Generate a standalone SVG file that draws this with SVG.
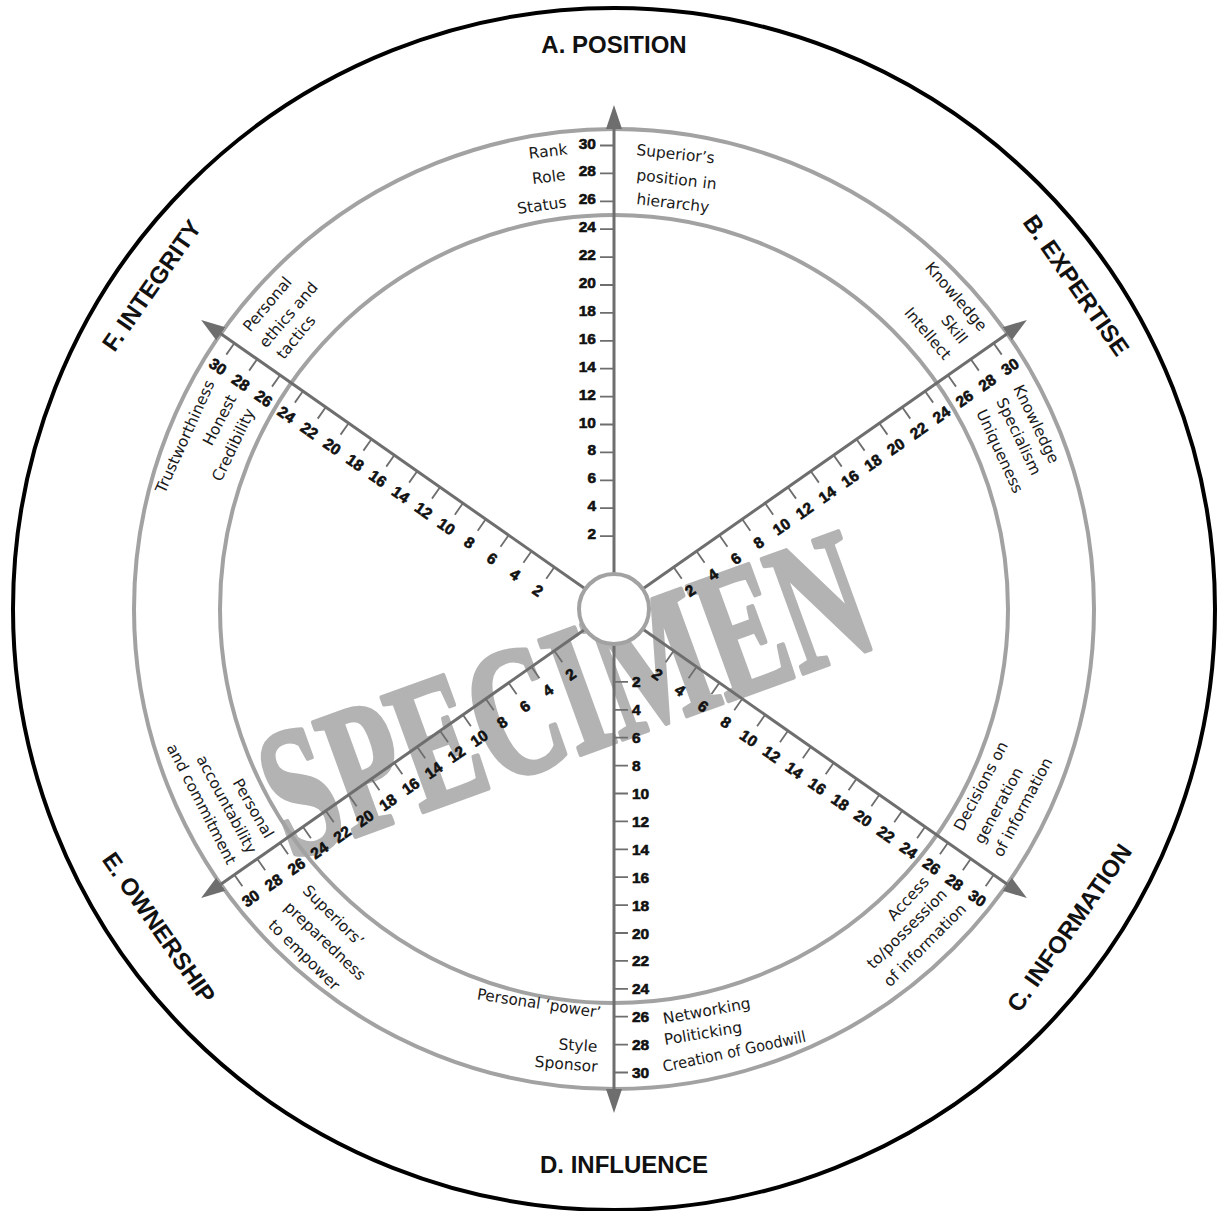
<svg xmlns="http://www.w3.org/2000/svg" width="1224" height="1211" viewBox="0 0 1224 1211">
<defs>
<style>
.ax{stroke:#6e6e6e;stroke-width:3;fill:none}
.tk{stroke:#6e6e6e;stroke-width:1.8;fill:none}
.ring{fill:none;stroke:#a2a2a2;stroke-width:4}
.num{font-family:"Liberation Sans",Arial,sans-serif;font-weight:bold;font-size:15.5px;fill:#111;stroke:#111;stroke-width:0.6}
.lb{font-family:"DejaVu Sans","Liberation Sans",sans-serif;font-size:15.5px;fill:#1a1a1a}
.cat{font-family:"Liberation Sans",Arial,sans-serif;font-weight:bold;font-size:24px;fill:#111;text-anchor:middle}
.wm{font-family:"Liberation Serif","Times New Roman",serif;font-weight:bold;font-size:185px;fill:#b3b3b3;stroke:#b3b3b3;stroke-width:5;stroke-linejoin:round;text-anchor:middle}
.e{text-anchor:end}
.m{text-anchor:middle}
</style>
<marker id="arr" markerUnits="userSpaceOnUse" markerWidth="26" markerHeight="18" viewBox="0 0 26 18" refX="0" refY="9" orient="auto"><path d="M0 1L24 9L0 17z" fill="#6e6e6e"/></marker>
<path id="ticks" d="M72.9 0v14M100.8 0v14M128.7 0v14M156.6 0v14M184.5 0v14M212.4 0v14M240.3 0v14M268.2 0v14M296.1 0v14M324 0v14M351.9 0v14M379.8 0v14M407.7 0v14M435.6 0v14M463.5 0v14"/>
</defs>
<rect width="1224" height="1211" fill="#fff"/>
<g id="watermark">
<text class="wm" transform="translate(566 698) rotate(-20) scale(0.645 1)" x="0" y="58">SPECIMEN</text>
</g>
<g id="rings">
<circle cx="614" cy="609" r="601" fill="none" stroke="#000" stroke-width="4"/>
<circle class="ring" cx="614" cy="609" r="480"/>
<circle class="ring" cx="614" cy="609" r="394"/>
</g>
<g id="connectors">
<g transform="translate(614 609)">
<line class="ax" x1="0" y1="0" x2="480" y2="0" transform="rotate(-90)" marker-end="url(#arr)"/>
<line class="ax" x1="0" y1="0" x2="480" y2="0" transform="rotate(-35)" marker-end="url(#arr)"/>
<line class="ax" x1="0" y1="0" x2="480" y2="0" transform="rotate(35)" marker-end="url(#arr)"/>
<line class="ax" x1="0" y1="0" x2="480" y2="0" transform="rotate(90)" marker-end="url(#arr)"/>
<line class="ax" x1="0" y1="0" x2="480" y2="0" transform="rotate(145)" marker-end="url(#arr)"/>
<line class="ax" x1="0" y1="0" x2="480" y2="0" transform="rotate(215)" marker-end="url(#arr)"/>
</g>
<g class="tk">
<use href="#ticks" transform="translate(614 609) rotate(-90) scale(1 -1)"/>
<use href="#ticks" transform="translate(614 609) rotate(-35)"/>
<use href="#ticks" transform="translate(614 609) rotate(35)"/>
<use href="#ticks" transform="translate(614 609) rotate(90) scale(1 -1)"/>
<use href="#ticks" transform="translate(614 609) rotate(-35) scale(-1 1)"/>
<use href="#ticks" transform="translate(614 609) rotate(35) scale(-1 1)"/>
</g>
</g>
<g id="scale-A" class="num e" transform="translate(614 609)">
<text x="-18" y="-69.9">2</text><text x="-18" y="-97.8">4</text><text x="-18" y="-125.7">6</text><text x="-18" y="-153.6">8</text><text x="-18" y="-181.5">10</text><text x="-18" y="-209.4">12</text><text x="-18" y="-237.3">14</text><text x="-18" y="-265.2">16</text><text x="-18" y="-293.1">18</text><text x="-18" y="-321">20</text><text x="-18" y="-348.9">22</text><text x="-18" y="-376.8">24</text><text x="-18" y="-404.7">26</text><text x="-18" y="-432.6">28</text><text x="-18" y="-460.5">30</text>
</g>
<g id="scale-D" class="num" transform="translate(614 609)">
<text x="18" y="78.4">2</text><text x="18" y="106.3">4</text><text x="18" y="134.2">6</text><text x="18" y="162.1">8</text><text x="18" y="190">10</text><text x="18" y="217.9">12</text><text x="18" y="245.8">14</text><text x="18" y="273.7">16</text><text x="18" y="301.6">18</text><text x="18" y="329.5">20</text><text x="18" y="357.4">22</text><text x="18" y="385.3">24</text><text x="18" y="413.2">26</text><text x="18" y="441.1">28</text><text x="18" y="469">30</text>
</g>
<g id="scale-B" class="num m" transform="translate(614 609) rotate(-35)">
<text x="72.9" y="34">2</text><text x="100.8" y="34">4</text><text x="128.7" y="34">6</text><text x="156.6" y="34">8</text><text x="184.5" y="34">10</text><text x="212.4" y="34">12</text><text x="240.3" y="34">14</text><text x="268.2" y="34">16</text><text x="296.1" y="34">18</text><text x="324" y="34">20</text><text x="351.9" y="34">22</text><text x="379.8" y="34">24</text><text x="407.7" y="34">26</text><text x="435.6" y="34">28</text><text x="463.5" y="34">30</text>
</g>
<g id="scale-E" class="num m" transform="translate(614 609) rotate(-35)">
<text x="-72.9" y="34">2</text><text x="-100.8" y="34">4</text><text x="-128.7" y="34">6</text><text x="-156.6" y="34">8</text><text x="-184.5" y="34">10</text><text x="-212.4" y="34">12</text><text x="-240.3" y="34">14</text><text x="-268.2" y="34">16</text><text x="-296.1" y="34">18</text><text x="-324" y="34">20</text><text x="-351.9" y="34">22</text><text x="-379.8" y="34">24</text><text x="-407.7" y="34">26</text><text x="-435.6" y="34">28</text><text x="-463.5" y="34">30</text>
</g>
<g id="scale-C" class="num m" transform="translate(614 609) rotate(35)">
<text x="72.9" y="34">2</text><text x="100.8" y="34">4</text><text x="128.7" y="34">6</text><text x="156.6" y="34">8</text><text x="184.5" y="34">10</text><text x="212.4" y="34">12</text><text x="240.3" y="34">14</text><text x="268.2" y="34">16</text><text x="296.1" y="34">18</text><text x="324" y="34">20</text><text x="351.9" y="34">22</text><text x="379.8" y="34">24</text><text x="407.7" y="34">26</text><text x="435.6" y="34">28</text><text x="463.5" y="34">30</text>
</g>
<g id="scale-F" class="num m" transform="translate(614 609) rotate(35)">
<text x="-72.9" y="34">2</text><text x="-100.8" y="34">4</text><text x="-128.7" y="34">6</text><text x="-156.6" y="34">8</text><text x="-184.5" y="34">10</text><text x="-212.4" y="34">12</text><text x="-240.3" y="34">14</text><text x="-268.2" y="34">16</text><text x="-296.1" y="34">18</text><text x="-324" y="34">20</text><text x="-351.9" y="34">22</text><text x="-379.8" y="34">24</text><text x="-407.7" y="34">26</text><text x="-435.6" y="34">28</text><text x="-463.5" y="34">30</text>
</g>
<g id="hub"><circle cx="614" cy="609" r="35" fill="#fff" stroke="#a2a2a2" stroke-width="4"/></g>
<g id="node-A">
<text class="cat" x="614" y="53">A. POSITION</text>
<text class="lb e" transform="rotate(-5.8 614 609) translate(614 152) rotate(-0.8)">Rank</text>
<text class="lb e" transform="rotate(-6.38 614 609) translate(614 177.3) rotate(-0.53)">Role</text>
<text class="lb e" transform="rotate(-6.67 614 609) translate(614 204.3) rotate(-1.47)">Status</text>
<text class="lb" transform="rotate(2.77 614 609) translate(614 154.5) rotate(3.38)">Superior’s</text>
<text class="lb" transform="rotate(2.94 614 609) translate(614 179.4) rotate(3.71)">position in</text>
<text class="lb" transform="rotate(3.11 614 609) translate(614 203.4) rotate(3.52)">hierarchy</text>
</g>
<g id="node-B">
<text class="cat" transform="rotate(55 614 609)" x="614" y="53">B. EXPERTISE</text>
<text class="lb e" transform="rotate(52.9 614 609) translate(614 150) rotate(-3.84)">Knowledge</text>
<text class="lb e" transform="rotate(52.65 614 609) translate(614 173.8) rotate(-1.2)">Skill</text>
<text class="lb e" transform="rotate(53.07 614 609) translate(614 196.2) rotate(-3.1)">Intellect</text>
<text class="lb" transform="rotate(61.02 614 609) translate(614 152.9) rotate(3.08)">Knowledge</text>
<text class="lb" transform="rotate(61.44 614 609) translate(614 174) rotate(3.08)">Specialism</text>
<text class="lb" transform="rotate(61.51 614 609) translate(614 197) rotate(3.71)">Uniqueness</text>
</g>
<g id="node-C">
<text class="cat" transform="rotate(-55 614 609)" x="614" y="1173">C. INFORMATION</text>
<text class="lb" transform="rotate(-57.4 614 609) translate(614 1023) rotate(-4.96)">Decisions on</text>
<text class="lb" transform="rotate(-57.4 614 609) translate(614 1047) rotate(-3.93)">generation</text>
<text class="lb" transform="rotate(-57.3 614 609) translate(614 1070) rotate(-4.99)">of information</text>
<text class="lb e" transform="rotate(-49.1 614 609) translate(614 1027) rotate(1.74)">Access</text>
<text class="lb e" transform="rotate(-49.4 614 609) translate(614 1049) rotate(4.54)">to/possession</text>
<text class="lb e" transform="rotate(-49.55 614 609) translate(614 1073) rotate(4.33)">of information</text>
</g>
<g id="node-D">
<text class="cat" x="624" y="1173">D. INFLUENCE</text>
<text class="lb e" textLength="125" lengthAdjust="spacingAndGlyphs" transform="rotate(1.96 614 609) translate(614 1018.2) rotate(6.62)">Personal ‘power’</text>
<text class="lb e" transform="rotate(2.2 614 609) translate(614 1052.3) rotate(1.58)">Style</text>
<text class="lb e" transform="rotate(2.1 614 609) translate(614 1072.3) rotate(2.69)">Sponsor</text>
<text class="lb" transform="rotate(-6.87 614 609) translate(614 1027) rotate(-3.49)">Networking</text>
<text class="lb" transform="rotate(-6.67 614 609) translate(614 1048) rotate(-2.81)">Politicking</text>
<text class="lb" textLength="146" lengthAdjust="spacingAndGlyphs" transform="rotate(-6.16 614 609) translate(614 1074.7) rotate(-5.95)">Creation of Goodwill</text>
</g>
<g id="node-E">
<text class="cat" transform="rotate(55 614 609)" x="614" y="1173">E. OWNERSHIP</text>
<text class="lb" transform="rotate(47.85 614 609) translate(614 1030) rotate(-2.81)">Superiors’</text>
<text class="lb" transform="rotate(47.85 614 609) translate(614 1055) rotate(-4.03)">preparedness</text>
<text class="lb" transform="rotate(47.55 614 609) translate(614 1079) rotate(-3.04)">to empower</text>
<text class="lb e" transform="rotate(56.55 614 609) translate(614 1027) rotate(3.3)">Personal</text>
<text class="lb e" transform="rotate(56.13 614 609) translate(614 1050) rotate(5.48)">accountability</text>
<text class="lb e" transform="rotate(56.43 614 609) translate(614 1073) rotate(6.3)">and commitment</text>
</g>
<g id="node-F">
<text class="cat" transform="rotate(-55 614 609)" x="614" y="53">F. INTEGRITY</text>
<text class="lb e" transform="rotate(-60.5 614 609) translate(614 150.5) rotate(-5.1)">Trustworthiness</text>
<text class="lb e" transform="rotate(-60.8 614 609) translate(614 177) rotate(-1.74)">Honest</text>
<text class="lb e" transform="rotate(-61.2 614 609) translate(614 199.4) rotate(-3.18)">Credibility</text>
<text class="lb" transform="rotate(-52.8 614 609) translate(614 152.2) rotate(2.89)">Personal</text>
<text class="lb" transform="rotate(-53.2 614 609) translate(614 174.6) rotate(3.88)">ethics and</text>
<text class="lb" transform="rotate(-53 614 609) translate(614 195.6) rotate(2.43)">tactics</text>
</g>
</svg>
